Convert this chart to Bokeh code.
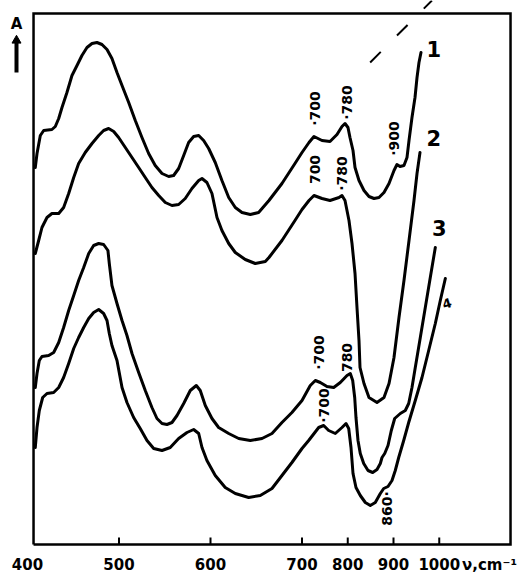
import numpy as np
from bokeh.plotting import figure
from bokeh.models import FixedTicker, ColumnDataSource, Range1d
from bokeh.core.properties import value
from bokeh.embed import file_html
from bokeh.resources import INLINE

# x-axis ticks (cm^-1); the scale is compressed by 2 above 700 cm^-1
tick_cm = [400, 500, 600, 700, 800, 900, 1000]
tick_labels = ["400", "500", "600", "700", "800", "900", "1000"]
axis_unit = "ν,cm⁻¹"
y_label = "A"

# chart box limits (cm^-1, absorbance units)
box_nu = [406.6, 1155.8]
box_a = [0.0, 5.31]

# curve 1 (wavenumber, absorbance in arbitrary units)
nu1 = [408.5, 410.4, 414.0, 417.7, 426.7, 430.4, 434.1, 437.7, 443.1, 448.6, 454.1, 459.5, 465.0,
       470.5, 475.9, 481.4, 486.9, 492.3, 497.8, 503.3, 510.6, 517.8, 525.1, 532.4, 539.6, 547.0,
       554.3, 559.7, 565.2, 570.7, 576.1, 581.6, 587.1, 592.5, 598.0, 605.2, 612.5, 619.9, 627.1,
       634.4, 643.5, 652.6, 663.9, 678.1, 692.3, 700.0, 715.3, 726.2, 743.7, 761.2, 776.5, 787.4,
       794.0, 800.5, 804.9, 811.5, 815.9, 824.6, 835.5, 846.4, 857.4, 868.3, 879.2, 890.2, 901.1,
       907.6, 914.2, 922.9, 929.5, 933.9, 940.4, 947.0, 951.4, 955.7, 960.1]
a1 = [3.77, 3.91, 4.09, 4.14, 4.15, 4.18, 4.26, 4.37, 4.52, 4.69, 4.79, 4.89, 4.97,
      5.01, 5.02, 5.00, 4.95, 4.86, 4.72, 4.59, 4.42, 4.24, 4.07, 3.91, 3.79, 3.71,
      3.68, 3.69, 3.76, 3.89, 4.02, 4.08, 4.09, 4.04, 3.96, 3.82, 3.64, 3.47, 3.37,
      3.32, 3.30, 3.32, 3.44, 3.61, 3.81, 3.92, 4.02, 4.08, 4.04, 4.03, 4.10, 4.18,
      4.21, 4.17, 4.07, 3.94, 3.77, 3.64, 3.54, 3.48, 3.46, 3.47, 3.52, 3.61, 3.74,
      3.80, 3.78, 3.79, 3.87, 4.04, 4.27, 4.47, 4.67, 4.82, 4.92]

# curve 2
nu2 = [408.5, 412.2, 415.8, 421.3, 426.7, 434.1, 439.5, 445.0, 450.5, 455.9, 463.1, 470.5, 477.8,
       483.2, 488.7, 494.2, 499.6, 506.9, 514.2, 521.5, 528.7, 536.0, 543.4, 550.6, 557.9, 565.2,
       572.4, 579.7, 587.1, 590.7, 596.1, 601.6, 607.1, 612.5, 619.9, 627.1, 638.0, 648.9, 659.9,
       663.9, 678.1, 692.3, 700.0, 715.3, 726.2, 743.7, 761.2, 780.9, 787.4, 794.0, 802.7, 809.3,
       815.9, 820.2, 824.6, 826.8, 835.5, 846.4, 863.9, 879.2, 890.2, 901.1, 912.0, 922.9, 933.9,
       944.8, 951.4, 957.9]
a2 = [2.91, 3.04, 3.17, 3.27, 3.31, 3.31, 3.37, 3.51, 3.67, 3.81, 3.92, 4.01, 4.09,
      4.14, 4.16, 4.13, 4.07, 3.97, 3.87, 3.77, 3.67, 3.57, 3.49, 3.42, 3.39, 3.40,
      3.46, 3.56, 3.64, 3.66, 3.62, 3.51, 3.27, 3.14, 3.01, 2.92, 2.85, 2.81, 2.83,
      2.87, 3.04, 3.24, 3.35, 3.44, 3.49, 3.46, 3.44, 3.47, 3.49, 3.44, 3.24, 3.01,
      2.71, 2.37, 2.04, 1.77, 1.61, 1.47, 1.42, 1.47, 1.61, 1.87, 2.27, 2.64, 3.04,
      3.44, 3.71, 3.92]

# curve 3
nu3 = [408.5, 410.4, 412.9, 415.8, 423.1, 428.6, 434.1, 439.5, 445.0, 450.5, 455.9, 461.4, 466.9,
       472.3, 477.8, 483.2, 487.9, 489.4, 492.3, 497.8, 503.3, 508.7, 514.2, 521.5, 528.7, 536.0,
       541.5, 547.0, 552.4, 557.9, 563.4, 570.7, 577.9, 584.5, 588.8, 594.3, 601.6, 608.9, 619.9,
       630.8, 643.5, 656.3, 667.2, 678.1, 689.0, 700.0, 718.1, 729.1, 740.0, 754.6, 769.3, 783.7,
       798.4, 805.6, 810.8, 815.2, 818.0, 822.4, 827.4, 834.9, 844.3, 854.5, 864.0, 871.2, 874.9,
       880.8, 888.0, 895.2, 902.6, 914.9, 925.8, 933.2, 940.4, 947.6, 958.6, 969.5, 980.4, 991.4]
a3 = [1.57, 1.71, 1.84, 1.88, 1.89, 1.92, 2.02, 2.17, 2.34, 2.49, 2.64, 2.77, 2.91,
      2.99, 3.01, 3.00, 2.94, 2.81, 2.59, 2.41, 2.24, 2.09, 1.91, 1.72, 1.54, 1.37,
      1.26, 1.21, 1.20, 1.22, 1.29, 1.41, 1.54, 1.59, 1.54, 1.39, 1.26, 1.17, 1.11,
      1.06, 1.04, 1.06, 1.11, 1.22, 1.32, 1.44, 1.59, 1.64, 1.62, 1.58, 1.57, 1.62,
      1.69, 1.71, 1.64, 1.47, 1.27, 1.04, 0.91, 0.81, 0.74, 0.72, 0.75, 0.81, 0.87,
      0.91, 0.99, 1.14, 1.26, 1.31, 1.34, 1.41, 1.57, 1.77, 2.07, 2.37, 2.67, 2.97]

# curve 4
nu4 = [408.5, 410.4, 412.9, 416.6, 421.3, 428.6, 434.1, 439.5, 445.0, 450.5, 455.9, 461.4, 466.9,
       472.3, 477.8, 483.2, 486.9, 489.4, 492.3, 497.8, 503.3, 508.7, 516.0, 523.2, 530.6, 537.9,
       547.0, 556.0, 565.2, 574.3, 581.6, 587.1, 590.7, 596.1, 605.2, 616.1, 627.1, 641.7, 654.4,
       667.2, 678.1, 689.0, 700.0, 714.6, 736.5, 747.4, 758.3, 772.8, 787.4, 796.2, 802.1, 807.1,
       811.5, 818.0, 827.4, 838.4, 849.3, 860.2, 871.2, 878.6, 888.0, 896.7, 903.9, 911.4, 922.3,
       933.2, 947.6, 962.3, 976.9, 991.4, 1002.3, 1013.3]
a4 = [0.97, 1.17, 1.34, 1.47, 1.51, 1.52, 1.57, 1.67, 1.81, 1.96, 2.07, 2.17, 2.26,
      2.32, 2.35, 2.31, 2.24, 2.11, 1.99, 1.84, 1.57, 1.42, 1.27, 1.16, 1.04, 0.96,
      0.94, 0.97, 1.06, 1.12, 1.15, 1.11, 0.97, 0.84, 0.69, 0.57, 0.51, 0.47, 0.49,
      0.56, 0.69, 0.82, 0.96, 1.04, 1.17, 1.19, 1.14, 1.11, 1.17, 1.21, 1.16, 0.97,
      0.71, 0.57, 0.49, 0.42, 0.39, 0.42, 0.51, 0.56, 0.58, 0.64, 0.74, 0.87, 1.04,
      1.22, 1.44, 1.67, 1.94, 2.21, 2.44, 2.66]

# band annotations (rotated)
ann_text = ["·700", "·780", "·900", "700", "·780", "·700", "780", "·700", "860·"]
ann_nu = [728, 798, 901, 728, 787, 737, 798, 748, 886]
ann_a = [4.36, 4.42, 4.06, 3.75, 3.71, 1.92, 1.87, 1.39, 0.36]

# curve numbers
num_text = ["1", "2", "3"]
num_nu = [988, 988, 1000]
num_a = [4.96, 4.07, 3.17]

# dashed line (top right)
dash_nu = [849, 984]
dash_a = [4.82, 5.44]


def warp(nu):
    nu = np.asarray(nu, dtype=float)
    return np.where(nu <= 700, nu, 700 + (nu - 700) / 2.0)


FONT = value("DejaVu Sans")
K = 0.915  # px per warped unit

p = figure(width=518, height=579, output_backend="svg", toolbar_location=None,
           x_range=Range1d(400 - 23 / K, 400 + 487 / K), y_range=Range1d(-0.03, 5.44),
           min_border_left=4, min_border_right=4, min_border_top=0, min_border_bottom=32)
p.grid.visible = False
p.yaxis.visible = False
p.outline_line_color = None
p.background_fill_color = "white"
p.border_fill_color = "white"

# chart box
bx0, bx1 = [float(v) for v in warp(box_nu)]
p.line([bx0, bx0, bx1, bx1, bx0], [box_a[0], box_a[1], box_a[1], box_a[0], box_a[0]],
       line_width=2.5, line_color="black", line_join="miter")

# tick marks pointing inward
tx = warp(tick_cm[1:])
p.segment(x0=tx, y0=[0.0] * len(tx), x1=tx, y1=[0.07] * len(tx), line_width=2, line_color="black")

# tick labels through the axis (unit label as the last label)
unit_u = 400 + 462 / K
ax = p.xaxis[0]
ticks_u = [float(u) for u in warp(tick_cm)] + [unit_u]
ax.ticker = FixedTicker(ticks=ticks_u)
ax.major_label_overrides = dict(zip(ticks_u, tick_labels + [axis_unit]))
ax.axis_line_color = None
ax.major_tick_line_color = None
ax.minor_tick_line_color = None
ax.major_label_text_font = "DejaVu Sans"
ax.major_label_text_font_style = "bold"
ax.major_label_text_font_size = "15px"
ax.major_label_text_color = "black"
ax.major_label_standoff = 2

for nu, a in [(nu1, a1), (nu2, a2), (nu3, a3), (nu4, a4)]:
    p.line(warp(nu), a, line_width=3, line_color="black", line_join="round", line_cap="round")

p.line(warp(dash_nu), dash_a, line_width=2, line_color="black", line_dash="15 23")

src = ColumnDataSource(dict(x=warp(ann_nu), y=ann_a, t=ann_text))
p.text(x="x", y="y", text="t", source=src, angle=np.pi / 2, text_font=FONT,
       text_font_style="bold", text_font_size="14px", text_align="center",
       text_baseline="middle", text_color="black")

src2 = ColumnDataSource(dict(x=warp(num_nu), y=num_a, t=num_text))
p.text(x="x", y="y", text="t", source=src2, text_font=FONT, text_font_style="bold",
       text_font_size="21px", text_align="center", text_baseline="middle", text_color="black")
p.text(x=[float(warp([1017])[0])], y=[2.41], text=["4"], text_font=FONT, text_font_style="bold",
       text_font_size="13px", text_align="center", text_baseline="middle", angle=0.3,
       text_color="black")

# "A" with upward arrow, left of the box
ax_u = 400 - 11 / K
p.text(x=[ax_u], y=[5.21], text=[y_label], text_font=FONT, text_font_style="bold",
       text_font_size="15px", text_align="center", text_baseline="middle", text_color="black")
p.segment(x0=[ax_u], y0=[4.72], x1=[ax_u], y1=[5.02], line_width=4, line_color="black")
p.scatter(x=[ax_u], y=[5.04], marker="triangle", size=9, fill_color="black", line_color="black")

open("out.html", "w").write(file_html(p, INLINE))
